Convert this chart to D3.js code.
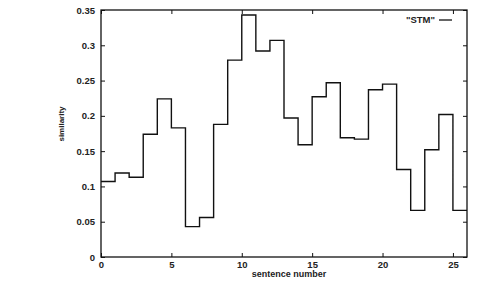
<!DOCTYPE html>
<html>
<head>
<meta charset="utf-8">
<script src="https://cdn.jsdelivr.net/npm/d3@7"></script>
<style>
  body { margin: 0; background: #fff; }
  svg text { font-family: "Liberation Sans", Arial, sans-serif; font-weight: bold; fill: #222; }
</style>
</head>
<body>
<svg id="chart" width="478" height="282"></svg>
<script>
// similarity per sentence (step i covers sentence i..i+1)
const sentences = d3.range(0, 26);
const similarity = [0.107, 0.119, 0.113, 0.174, 0.224, 0.183, 0.043, 0.056, 0.188, 0.279,
  0.343, 0.292, 0.307, 0.197, 0.159, 0.227, 0.247, 0.169, 0.167, 0.237,
  0.245, 0.124, 0.066, 0.152, 0.202, 0.066];
const xTicks = [0, 5, 10, 15, 20, 25];
const yTicks = [0, 0.05, 0.1, 0.15, 0.2, 0.25, 0.3, 0.35];
const seriesName = '"STM"';

const svg = d3.select("#chart");
const plotLeft = 101, plotRight = 467, plotTop = 10, plotBottom = 257;

let x = d3.scaleLinear().domain([0, 26]).range([plotLeft, plotRight]);
let y = d3.scaleLinear().domain([0, 0.35]).range([plotBottom, plotTop]);

// frame
svg.append("rect")
  .attr("x", plotLeft).attr("y", plotTop)
  .attr("width", plotRight - plotLeft).attr("height", plotBottom - plotTop)
  .attr("fill", "none").attr("stroke", "#111").attr("stroke-width", 1.3);

// bottom / top ticks
svg.append("g").attr("transform", `translate(0,${plotBottom})`)
  .call(d3.axisBottom(x).tickValues(xTicks).tickSize(-4).tickPadding(4).tickFormat(d3.format("d")));
svg.append("g").attr("transform", `translate(0,${plotTop})`)
  .call(d3.axisTop(x).tickValues(xTicks).tickSize(-4).tickFormat(""));

// left / right ticks
svg.append("g").attr("transform", `translate(${plotLeft},0)`)
  .call(d3.axisLeft(y).tickValues(yTicks).tickSize(-4).tickPadding(6).tickFormat(d => d === 0 ? "0" : String(+d.toFixed(2))));
svg.append("g").attr("transform", `translate(${plotRight},0)`)
  .call(d3.axisRight(y).tickValues(yTicks).tickSize(-4).tickFormat(""));

svg.selectAll(".domain").remove();
svg.selectAll(".tick line").attr("stroke", "#111").attr("stroke-width", 1);
svg.selectAll(".tick text").attr("font-size", "9.5px").attr("fill", "#222");

// step line
let pts = sentences.map((s, i) => [s, similarity[i]]);
pts.push([26, similarity[similarity.length - 1]]);
let line = d3.line()
  .x(d => x(d[0]))
  .y(d => y(d[1]))
  .curve(d3.curveStepAfter);

svg.append("path")
  .datum(pts)
  .attr("d", line)
  .attr("fill", "none")
  .attr("stroke", "#111")
  .attr("stroke-width", 1.4);

// legend
svg.append("text")
  .attr("x", 435).attr("y", 23)
  .attr("text-anchor", "end")
  .attr("font-size", "9.5px")
  .text(seriesName);
svg.append("line")
  .attr("x1", 439).attr("x2", 452)
  .attr("y1", 20).attr("y2", 20)
  .attr("stroke", "#111").attr("stroke-width", 1.3);

// axis titles
svg.append("text")
  .attr("x", 289).attr("y", 277)
  .attr("text-anchor", "middle")
  .attr("font-size", "9px")
  .text("sentence number");

svg.append("text")
  .attr("transform", "translate(64,124) rotate(-90)")
  .attr("text-anchor", "middle")
  .attr("font-size", "8px")
  .text("similarity");
</script>
</body>
</html>
